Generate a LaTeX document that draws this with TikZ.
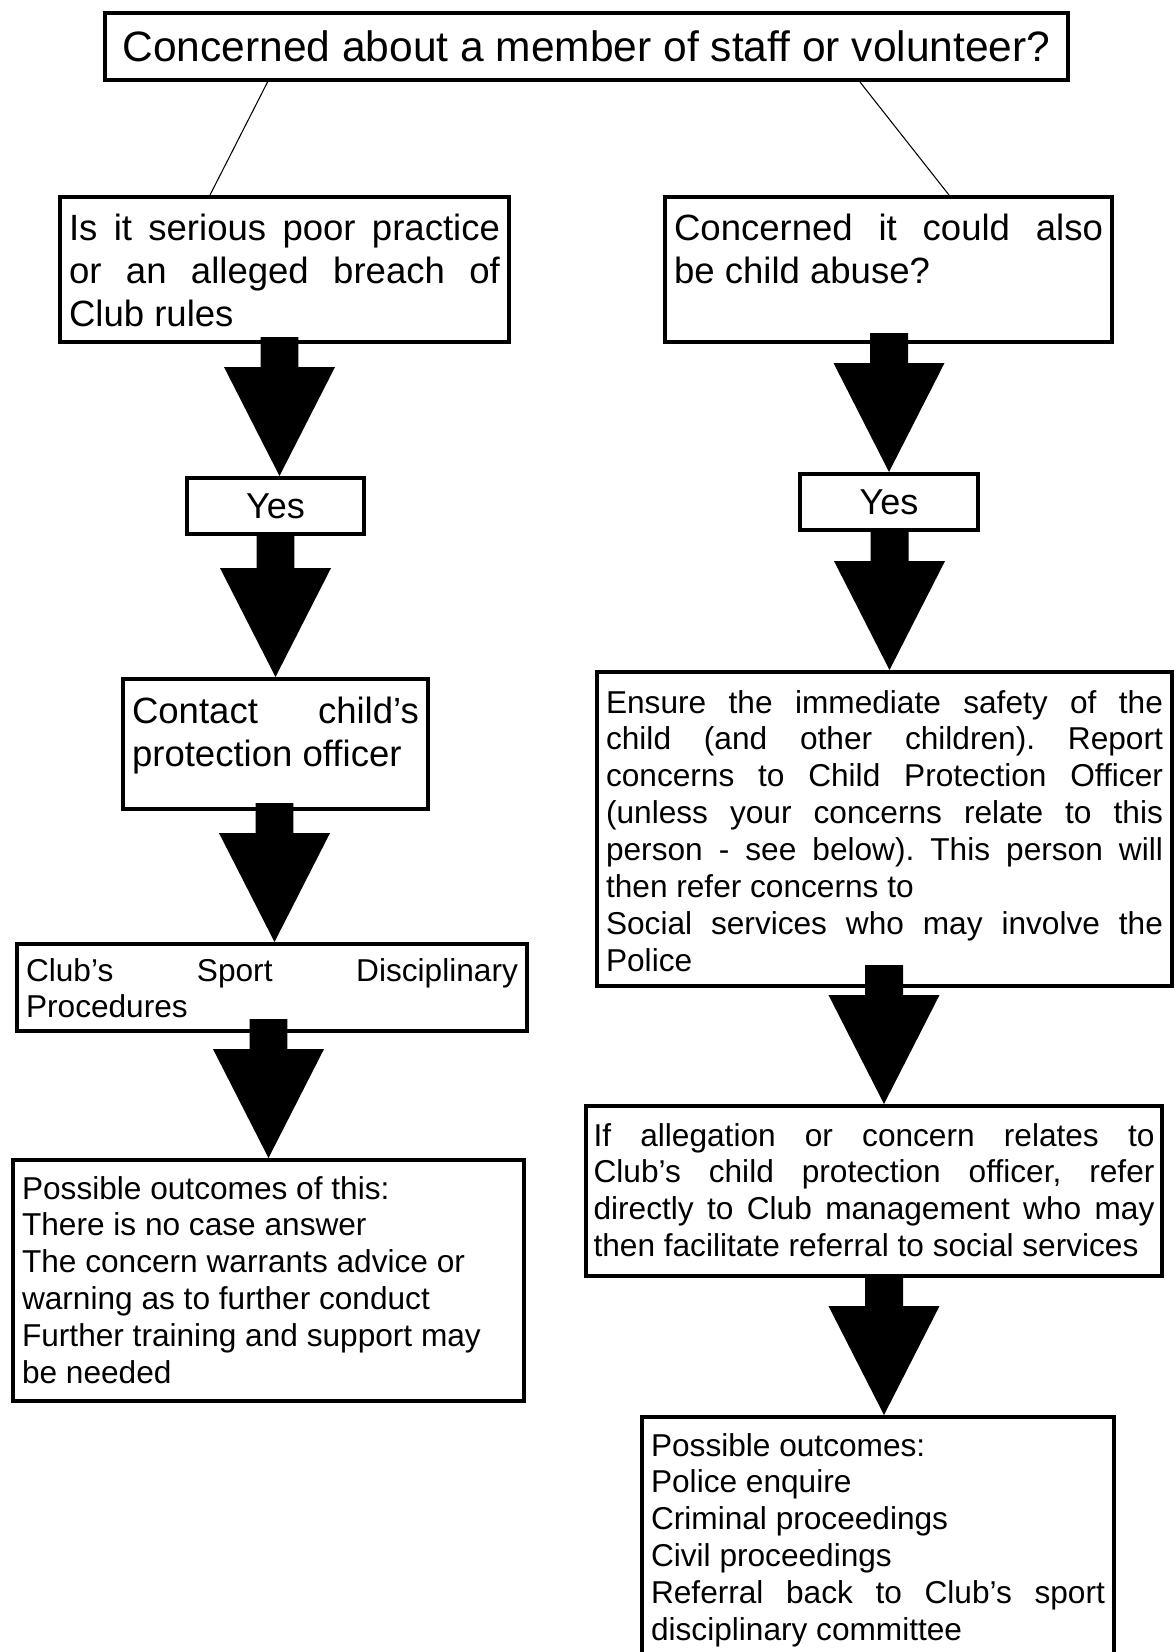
\documentclass[tikz,border=0pt]{standalone}
\usepackage{fontspec}
\setmainfont{Liberation Sans}
\usetikzlibrary{calc}
\frenchspacing

\begin{document}
\begin{tikzpicture}[
    x=0.02cm, y=-0.02cm,
    title/.style={rectangle, draw=black, line width=2.3pt, minimum width=19.26cm, minimum height=1.34cm, inner sep=0pt, font=\fontsize{24.2}{29}\selectfont},
    ques/.style={rectangle, draw=black, line width=2.3pt, inner xsep=0.18cm, inner ysep=0pt, align=justify, font=\fontsize{20.8}{24.5}\selectfont},
    info/.style={rectangle, draw=black, line width=2.3pt, inner xsep=0.18cm, inner ysep=0pt, align=justify, font=\fontsize{18}{21}\selectfont},
    yesbox/.style={rectangle, draw=black, line width=2.3pt, minimum width=3.55cm, minimum height=1.12cm, inner sep=0pt, font=\fontsize{20.5}{24}\selectfont},
    link/.style={line width=0.6pt},
    bigarrow/.style={fill=black, to path={
        let \p1=(\tikztostart), \p2=(\tikztotarget), \n1={max(\y1+1pt,\y2+79.1pt)} in
        (\x2-10.81pt,\n1*1pt) -- (\x2+10.81pt,\n1*1pt) -- (\x2+10.81pt,\y2+62pt) -- (\x2+31.58pt,\y2+62pt)
        -- (\x2,\y2) -- (\x2-31.58pt,\y2+62pt) -- (\x2-10.81pt,\y2+62pt) -- cycle}},
  ]
  \path[use as bounding box, fill=white] (0,0) rectangle (1175,1652);

  \node[title] (q0) at (586.5,46.5) {Concerned about a member of staff or volunteer?};

  % left column
  \node[ques, text width=8.62cm, text height=0.87cm, text depth=2.03cm] (q1) at (284.5,269.5) {Is it serious poor practice\linebreak or an alleged breach of\linebreak Club rules};
  \node[yesbox] (yes1) at (275.5,506) {Yes};
  \node[ques, text width=5.74cm, text height=0.89cm, text depth=1.71cm] (q3) at (275.5,744) {Contact child's\linebreak protection officer};
  \node[info, text width=9.84cm, text height=0.74cm, text depth=1.0cm] (q4) at (272,987.5) {Club's Sport Disciplinary\linebreak Procedures};
  \node[info, text width=9.86cm, text height=0.78cm, text depth=4.04cm] (q5) at (268.5,1280.5) {Possible outcomes of this:\newline There is no case answer\newline The concern warrants advice or\newline warning as to further conduct\newline Further training and support may\newline be needed};

  % right column
  \node[ques, text width=8.58cm, text height=0.87cm, text depth=2.03cm] (q2) at (888.5,269.5) {Concerned it could also\linebreak be child abuse?};
  \node[yesbox] (yes2) at (889,502) {Yes};
  \node[info, text width=11.14cm, text height=0.82cm, text depth=5.46cm] (q6) at (884.5,829) {Ensure the immediate safety of the\linebreak child (and other children). Report\linebreak concerns to Child Protection Officer\linebreak (unless your concerns relate to this\linebreak person - see below). This person will\linebreak then refer concerns to\newline Social services who may involve the\linebreak Police};
  \node[info, inner xsep=0.15cm, text width=11.22cm, text height=0.8cm, text depth=2.6cm] (q7) at (874,1191) {If allegation or concern relates to\linebreak Club's child protection officer, refer\linebreak directly to Club management who may\linebreak then facilitate referral to social services};
  \node[info, text width=9.08cm, text height=0.78cm, text depth=5.02cm] (q8) at (878,1562) {Possible outcomes:\newline Police enquire\newline Criminal proceedings\newline Civil proceedings\newline Referral back to Club's sport\linebreak disciplinary committee};

  \draw[link] ([xshift=-6.38cm]q0.south) -- ([xshift=-1.49cm]q1.north);
  \draw[link] ([xshift=5.47cm]q0.south) -- ([xshift=1.21cm]q2.north);

  \fill[bigarrow] (q1.south) to ([xshift=0.08cm]yes1.north);
  \fill[bigarrow] (yes1.south) to (q3.north);
  \fill[bigarrow] (q3.south) to ([xshift=0.05cm]q4.north);
  \fill[bigarrow] (q4.south) to (q5.north);
  \fill[bigarrow] (q2.south) to (yes2.north);
  \fill[bigarrow] (yes2.south) to ([xshift=0.1cm]q6.north);
  \fill[bigarrow] (q6.south) to ([xshift=0.2cm]q7.north);
  \fill[bigarrow] (q7.south) to ([xshift=0.12cm]q8.north);
\end{tikzpicture}
\end{document}
